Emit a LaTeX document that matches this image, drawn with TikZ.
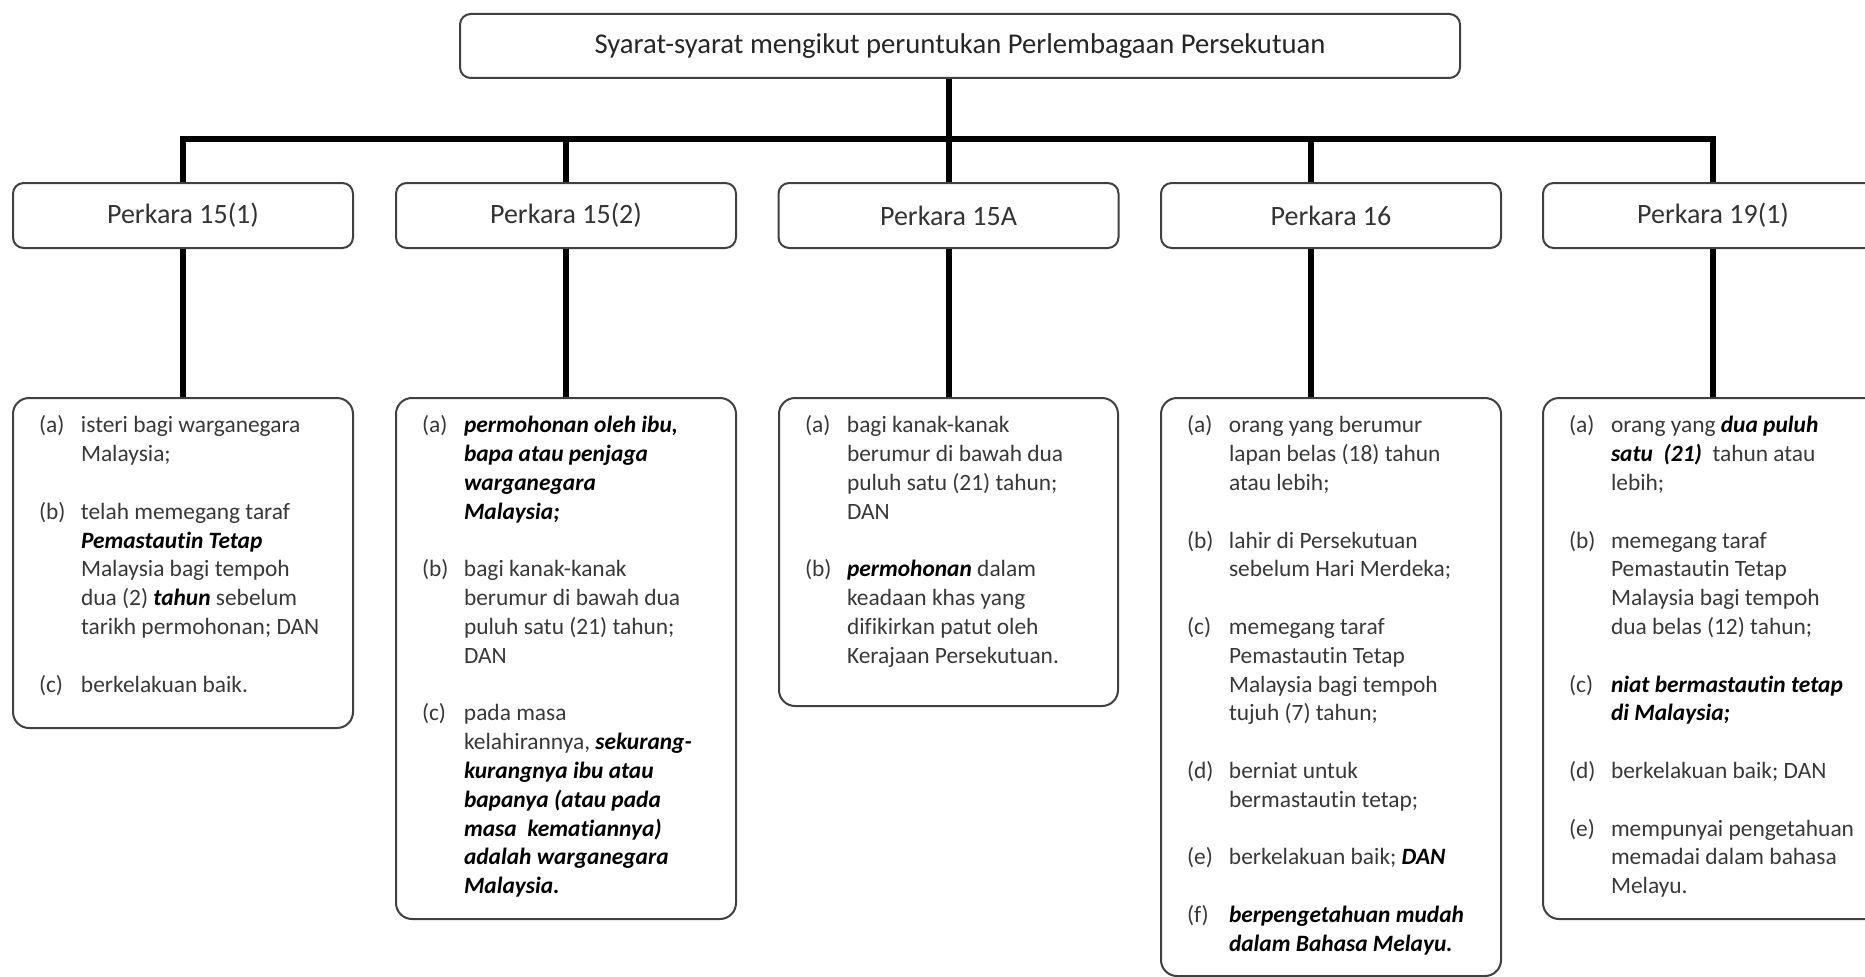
\documentclass[tikz,border=0pt]{standalone}
\usepackage{fontspec}
\setmainfont{Carlito}[Ligatures=NoCommon]
\usepackage{array}
\newcommand\bi[1]{{\color{black}\textbf{\textit{#1}}}}
\newcommand\lowtext[3]{\parbox[c][#1][t]{#2}{\vspace*{11pt}\hspace*{19.5pt}\begin{tabular}[t]{@{}p{31.5pt}@{}l@{}}#3\end{tabular}}}
\tikzset{
  box/.style={draw=black!75, line width=1.5pt, fill=white},
  topbox/.style={box, rounded corners=8pt, minimum width=750pt, minimum height=48pt, inner sep=0pt,
    font=\fontsize{21.5}{25}\selectfont, text=black!85},
  headbox/.style={box, rounded corners=8pt, minimum width=255pt, minimum height=48.75pt, inner sep=0pt,
    font=\fontsize{21}{25}\selectfont, text=black!80},
  lowbox/.style={box, rounded corners=12pt, inner sep=0pt, anchor=north,
    font=\fontsize{17.55}{21.6}\selectfont, text=black!78},
  stem/.style={line width=4.5pt, draw=black},
  bus/.style={line width=5pt, draw=black, line join=miter},
}
\begin{document}
\begin{tikzpicture}[x=0.75pt, y=-0.75pt]
\fill[white] (0,0) rectangle (1865,977);
\clip (0,0) rectangle (1865,977);

\node[topbox] (top) at (960,46) {Syarat-syarat mengikut peruntukan Perlembagaan Persekutuan};

\node[headbox] (p1) at (183,215.5) {Perkara 15(1)};
\node[headbox] (p2) at (566,215.5) {Perkara 15(2)};
\node[headbox] (p3) at (948.5,215.5) {Perkara 15A};
\node[headbox] (p4) at (1331,215.5) {Perkara 16};
\node[headbox] (p5) at (1713,215.5) {Perkara 19(1)};

\coordinate (J) at (948.5,139);

\node[lowbox] (d1) at (183,397) {\lowtext{247.5pt}{255pt}{%
(a) & isteri bagi warganegara\\
    & Malaysia;\\
    & \\
(b) & telah memegang taraf\\
    & \bi{Pemastautin Tetap}\\
    & Malaysia bagi tempoh\\
    & dua (2) \bi{tahun} sebelum\\
    & tarikh permohonan; DAN\\
    & \\
(c) & berkelakuan baik.}};

\node[lowbox] (d2) at (566,397) {\lowtext{390.75pt}{255pt}{%
(a) & \bi{permohonan oleh ibu,}\\
    & \bi{bapa atau penjaga}\\
    & \bi{warganegara}\\
    & \bi{Malaysia;}\\
    & \\
(b) & bagi kanak-kanak\\
    & berumur di bawah dua\\
    & puluh satu (21) tahun;\\
    & DAN\\
    & \\
(c) & pada masa\\
    & kelahirannya, \bi{sekurang-}\\
    & \bi{kurangnya ibu atau}\\
    & \bi{bapanya (atau pada}\\
    & \bi{masa\ \ kematiannya)}\\
    & \bi{adalah warganegara}\\
    & \bi{Malaysia.}}};

\node[lowbox] (d3) at (948.5,397) {\lowtext{231pt}{254.25pt}{%
(a) & bagi kanak-kanak\\
    & berumur di bawah dua\\
    & puluh satu (21) tahun;\\
    & DAN\\
    & \\
(b) & \bi{permohonan} dalam\\
    & keadaan khas yang\\
    & difikirkan patut oleh\\
    & Kerajaan Persekutuan.}};

\node[lowbox] (d4) at (1331,397) {\lowtext{433.5pt}{255pt}{%
(a) & orang yang berumur\\
    & lapan belas (18) tahun\\
    & atau lebih;\\
    & \\
(b) & lahir di Persekutuan\\
    & sebelum Hari Merdeka;\\
    & \\
(c) & memegang taraf\\
    & Pemastautin Tetap\\
    & Malaysia bagi tempoh\\
    & tujuh (7) tahun;\\
    & \\
(d) & berniat untuk\\
    & bermastautin tetap;\\
    & \\
(e) & berkelakuan baik; \bi{DAN}\\
    & \\
(f) & \bi{berpengetahuan mudah}\\
    & \bi{dalam Bahasa Melayu.}}};

\node[lowbox] (d5) at (1713,397) {\lowtext{390.75pt}{255pt}{%
(a) & orang yang \bi{dua puluh}\\
    & \bi{satu\ \ (21)}\ \ tahun atau\\
    & lebih;\\
    & \\
(b) & memegang taraf\\
    & Pemastautin Tetap\\
    & Malaysia bagi tempoh\\
    & dua belas (12) tahun;\\
    & \\
(c) & \bi{niat bermastautin tetap}\\
    & \bi{di Malaysia;}\\
    & \\
(d) & berkelakuan baik; DAN\\
    & \\
(e) & mempunyai pengetahuan\\
    & memadai dalam bahasa\\
    & Melayu.}};

% connectors
\draw[stem] (top.south -| J) -- (J);
\draw[bus] (p1.north) |- (J) -| (p5.north);
\draw[stem] (p2.north) -- (p2.north |- J);
\draw[stem] (p3.north) -- (J);
\draw[stem] ([xshift=-15pt]p4.north) -- ([xshift=-15pt]p4.north |- J);

\draw[stem] (p1.south) -- (d1.north);
\draw[stem] (p2.south) -- (d2.north);
\draw[stem] (p3.south) -- (d3.north);
\draw[stem] ([xshift=-15pt]p4.south) -- ([xshift=-15pt]p4.south |- d4.north);
\draw[stem] (p5.south) -- (d5.north);
\end{tikzpicture}
\end{document}
